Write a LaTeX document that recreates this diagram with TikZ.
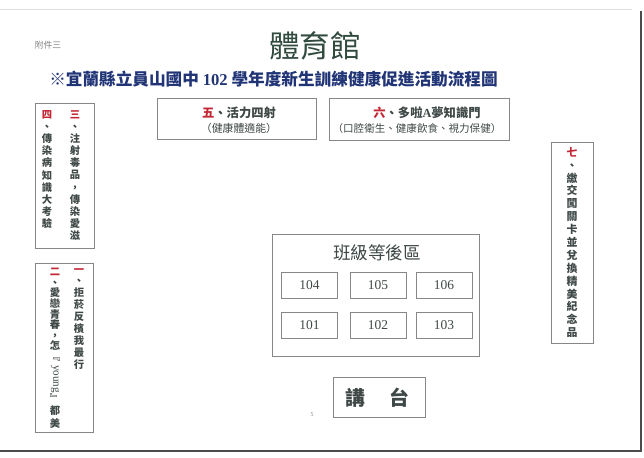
\documentclass[tikz,border=0pt]{standalone}
\usepackage{fontspec}
\setmainfont{Liberation Serif}
\newfontfamily\cjk{Noto Sans CJK TC}
\usepackage{xcolor}
\usetikzlibrary{fit, positioning}
\definecolor{inkgray}{RGB}{62,72,70}
\definecolor{titlegreen}{RGB}{48,74,62}
\definecolor{subblue}{RGB}{32,52,118}
\definecolor{numred}{RGB}{196,38,52}
\definecolor{linegray}{RGB}{135,135,135}
\def\nr#1{\textcolor{numred}{#1}}

\begin{document}
\begin{tikzpicture}[x=0.3mm, y=-0.3mm,
    box/.style={draw=linegray, line width=0.55pt, inner sep=0pt},
    classbox/.style={draw=linegray, line width=0.55pt, minimum width=16.8mm, minimum height=7.8mm,
      font=\fontsize{11.5}{12}\selectfont, text=inkgray},
    vcol/.style={align=center, inner sep=0pt, text=inkgray, anchor=north}]
  \useasboundingbox (0,0) rectangle (644,457);
  % page edges of the scan
  \draw[gray!25, line width=0.6pt] (0,9) -- (632,9);
  \draw[black!40, line width=2.2pt] (641,11) -- (641,451) -- (0,451);
  \draw[black!70, line width=1pt] (641,11) -- (641,451) -- (0,451);
  % headings
  \node[text=gray, font=\cjk\fontsize{7.5}{8}\selectfont] (annex) at (48,45) {附件三};
  \node[text=titlegreen, font=\cjk\fontsize{26}{26}\selectfont] (title) at (315,46) {體育館};
  \node[text=subblue, font=\cjk\bfseries\fontsize{14.2}{15}\selectfont] (subtitle) at (273.5,79)
    {※宜蘭縣立員山國中 {\rmfamily 102} 學年度新生訓練健康促進活動流程圖};
  % stations three and four
  \node[box, fit={(35,103) (94,248)}] (boxThreeFour) {};
  \node[vcol, font=\cjk\bfseries\fontsize{8.8}{10.4}\selectfont] (colThree) at (75,110)
    {\nr{三}\\、\\注\\射\\毒\\品\\，\\傳\\染\\愛\\滋};
  \node[vcol, font=\cjk\bfseries\fontsize{8.8}{10.4}\selectfont] (colFour) at (47,110)
    {\nr{四}\\、\\傳\\染\\病\\知\\識\\大\\考\\驗};
  % stations one and two
  \node[box, fit={(35,263) (93,432)}] (boxOneTwo) {};
  \node[vcol, font=\cjk\bfseries\fontsize{8.8}{10.16}\selectfont] (colOne) at (79,268)
    {\nr{一}\\、\\拒\\菸\\反\\檳\\我\\最\\行};
  \node[vcol, font=\cjk\bfseries\fontsize{8.8}{9.05}\selectfont] (colTwo) at (55,268)
    {\nr{二}\\、\\愛\\戀\\青\\春\\，\\怎\\﹃};
  \node[rotate=-90, inner sep=0pt, text=inkgray, font=\fontsize{9.5}{10}\selectfont] (young) at (55,379) {young};
  \node[vcol, font=\cjk\bfseries\fontsize{8.8}{10.7}\selectfont] (colTwoEnd) at (55,393)
    {﹄\\都\\美};
  % stations five and six
  \node[box, fit={(157,98) (316,139)}] (boxFive) {};
  \node[text=inkgray, font=\cjk\bfseries\fontsize{10.5}{11}\selectfont] (fiveName) at (239,113) {\nr{五}、活力四射};
  \node[text=inkgray, font=\cjk\fontsize{9.3}{10}\selectfont] (fiveNote) at (239,128) {（健康體適能）};
  \node[box, fit={(329,98) (509,140)}] (boxSix) {};
  \node[text=inkgray, font=\cjk\bfseries\fontsize{10.5}{11}\selectfont] (sixName) at (427,113) {\nr{六}、多啦{\rmfamily A}夢知識門};
  \node[text=inkgray, font=\cjk\fontsize{9}{10}\selectfont] (sixNote) at (417,128) {（口腔衛生、健康飲食、視力保健）};
  % station seven
  \node[box, fit={(551,142) (593,343)}] (boxSeven) {};
  \node[vcol, font=\cjk\bfseries\fontsize{9.3}{11}\selectfont] (colSeven) at (572,147)
    {\nr{七}\\、\\繳\\交\\闖\\關\\卡\\並\\兌\\換\\精\\美\\紀\\念\\品};
  % waiting area
  \node[box, fit={(272,234) (479,356)}] (waitArea) {};
  \node[text=inkgray, font=\cjk\fontsize{15}{16}\selectfont] (waitName) at (377,253) {班級等後區};
  \foreach \cls/\cx/\cy in {104/309.5/285, 105/378/285, 106/444/285, 101/309.5/325, 102/378/325, 103/444/325}
    \node[classbox] (class\cls) at (\cx,\cy) {\cls};
  % podium
  \node[box, fit={(333,377) (425,417)}] (podium) {};
  \node[text=inkgray, font=\cjk\bfseries\fontsize{17}{18}\selectfont] (podiumName) at (377.5,398) {講\hspace{1.25em}台};
  \node[text=gray, font=\fontsize{5}{5}\selectfont] (pagenum) at (312,415) {5};
\end{tikzpicture}
\end{document}
